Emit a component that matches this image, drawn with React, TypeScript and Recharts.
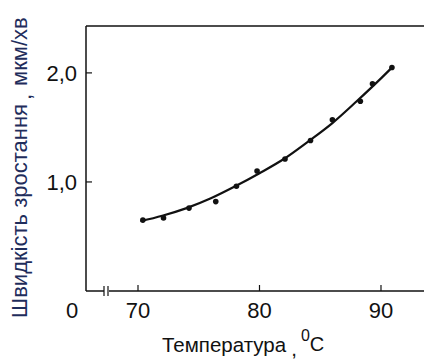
import React from 'react';
import { ComposedChart, Line, Scatter, XAxis, YAxis, ReferenceLine, Label } from 'recharts';

// measured points
const pointTemps = [70.4, 72.1, 74.2, 76.4, 78.1, 79.8, 82.1, 84.2, 86.0, 88.3, 89.3, 90.9];
const pointRates = [0.65, 0.67, 0.76, 0.82, 0.96, 1.1, 1.21, 1.38, 1.57, 1.74, 1.9, 2.05];

// fitted curve
const curveTemps = [70.2, 72, 74, 76, 78, 80, 82, 84, 86, 88, 90, 91];
const curveRates = [0.64, 0.69, 0.76, 0.85, 0.96, 1.08, 1.21, 1.37, 1.54, 1.74, 1.95, 2.06];

const xTicks = [70, 80, 90];
const yTicks = [1, 2];

const points = pointTemps.map((t, i) => ({ t, v: pointRates[i] }));
const curve = curveTemps.map((t, i) => ({ t, v: curveRates[i] }));

const INK = '#111';
const FONT = '"Liberation Sans", Arial, sans-serif';

const XTick = (props: any) => {
  const { x, y, payload } = props;
  return (
    <g>
      <line x1={x} x2={x} y1={y} y2={y - 6} stroke={INK} strokeWidth={1.2} />
      <text x={x} y={y + 27} textAnchor="middle" fontSize={22} fontFamily={FONT} fill={INK}>
        {payload.value}
      </text>
    </g>
  );
};

const YTick = (props: any) => {
  const { x, y, payload } = props;
  return (
    <g>
      <line x1={x} x2={x + 6} y1={y} y2={y} stroke={INK} strokeWidth={1.2} />
      <text x={x - 9} y={y} dy="0.35em" textAnchor="end" fontSize={22} fontFamily={FONT} fill={INK}>
        {payload.value.toFixed(1).replace('.', ',')}
      </text>
    </g>
  );
};

const XTitle = (props: any) => {
  const { x, y } = props.viewBox;
  return (
    <g fontFamily={FONT} fill={INK}>
      {/* axis break */}
      <rect x={x + 18} y={y - 4} width={5} height={8} fill="#fff" />
      <line x1={x + 18} x2={x + 18} y1={y - 5} y2={y + 5} stroke={INK} strokeWidth={1.2} />
      <line x1={x + 22} x2={x + 22} y1={y - 5} y2={y + 5} stroke={INK} strokeWidth={1.2} />
      <text x={x - 14} y={y + 27} textAnchor="middle" fontSize={22}>0</text>
      <text x={162} y={y + 61} fontSize={20.5}>
        Температура
        <tspan dx={5} dy={4}>,</tspan>
        <tspan dx={4} dy={-15} fontSize={16}>0</tspan>
        <tspan dy={10} fontSize={20}>C</tspan>
      </text>
    </g>
  );
};

const YTitle = () => (
  <text
    transform="translate(27, 318) rotate(-90)"
    fontSize={22}
    fontFamily={FONT}
    fill="#1f2d5c"
  >
    Швидкість зростання
    <tspan dx={4} dy={4}>,</tspan>
    <tspan dx={8} dy={-4} fontSize={22}>мкм/хв</tspan>
  </text>
);

const Dot = (props: any) => {
  const { cx, cy } = props;
  return <circle cx={cx} cy={cy} r={2.8} fill={INK} />;
};

export default function App() {
  return (
    <div style={{ position: 'absolute', left: 0, top: 0, width: 424, height: 360, background: '#fff' }}>
      <ComposedChart width={424} height={360} margin={{ top: 26, right: 0, left: 56, bottom: 39 }}>
        <XAxis
          dataKey="t"
          type="number"
          domain={[65.72, 93.54]}
          ticks={xTicks}
          height={30}
          tickSize={0}
          tickMargin={0}
          tick={<XTick />}
          axisLine={{ stroke: INK, strokeWidth: 1.5 }}
          allowDataOverflow
        >
          <Label content={<XTitle />} />
        </XAxis>
        <YAxis
          dataKey="v"
          type="number"
          domain={[0, 2.43]}
          ticks={yTicks}
          width={30}
          tickSize={0}
          tickMargin={0}
          tick={<YTick />}
          axisLine={{ stroke: INK, strokeWidth: 1.5 }}
          allowDataOverflow
        >
          <Label content={<YTitle />} />
        </YAxis>
        <ReferenceLine y={2.43} stroke={INK} strokeWidth={1.5} />
        <Line
          data={curve}
          dataKey="v"
          type="monotone"
          stroke={INK}
          strokeWidth={2.2}
          dot={false}
          activeDot={false}
          isAnimationActive={false}
        />
        <Scatter data={points} dataKey="v" fill={INK} shape={<Dot />} isAnimationActive={false} />
      </ComposedChart>
    </div>
  );
}
